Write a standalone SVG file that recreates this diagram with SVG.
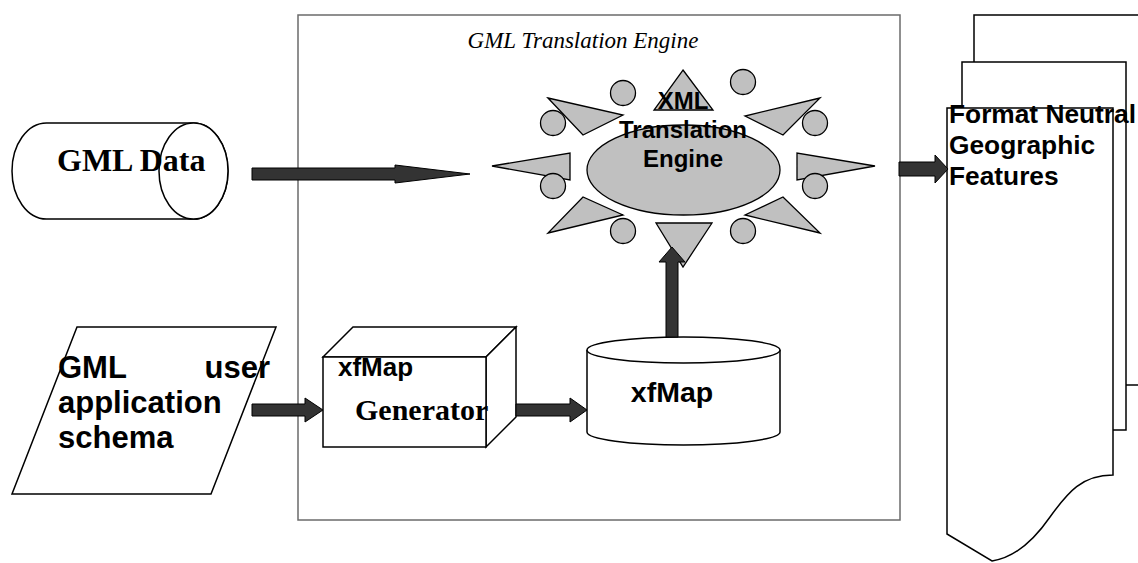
<svg xmlns="http://www.w3.org/2000/svg" width="1138" height="563" viewBox="0 0 1138 563">
<style>
.ln{fill:#fff;stroke:#000;stroke-width:1.5}
.gr{fill:#c0c0c0;stroke:#000;stroke-width:1.3}
.arr{fill:#333;stroke:#000;stroke-width:1}
.sans{font-family:"Liberation Sans",Arial,sans-serif;font-weight:bold;fill:#000}
.serif{font-family:"Liberation Serif","Times New Roman",serif;fill:#000}
</style>
<rect width="1138" height="563" fill="#fff"/>
<g id="translation-engine-box">
<rect x="298" y="15" width="602" height="505" fill="none" stroke="#6b6b6b" stroke-width="1.5"/>
<text class="serif" x="583" y="48" font-size="23" font-style="italic" text-anchor="middle">GML Translation Engine</text>
</g>
<g id="gml-data">
<path class="ln" d="M46.5,123 H193.5 A34.5,48 0 0 1 193.5,219 H46.5 A34.5,48 0 0 1 46.5,123 Z"/>
<ellipse class="ln" cx="193.5" cy="171" rx="34.5" ry="48" fill="none"/>
<text class="serif" x="57" y="171" font-size="32" font-weight="bold">GML Data</text>
</g>
<g id="gml-schema">
<polygon class="ln" points="77,327 276,327 211,494 12,494"/>
<text class="sans" font-size="31"><tspan x="58" y="378">GML</tspan><tspan x="270" y="378" text-anchor="end">user</tspan><tspan x="58" y="413">application</tspan><tspan x="58" y="448">schema</tspan></text>
</g>
<g id="xfmap-generator">
<polygon class="ln" points="323,357 353,327 516,327 486,357"/>
<polygon class="ln" points="486,357 516,327 516,417 486,447"/>
<rect class="ln" x="323" y="357" width="163" height="90"/>
<text class="sans" x="338" y="376" font-size="26">xfMap</text>
<text class="serif" x="355" y="420" font-size="30" font-weight="bold">Generator</text>
</g>
<g id="xfmap-store">
<path class="ln" d="M587,350 V432 A96.5,13 0 0 0 780,432 V350"/>
<ellipse class="ln" cx="683.5" cy="350" rx="96.5" ry="13"/>
<text class="sans" x="672" y="402" font-size="28.5" text-anchor="middle">xfMap</text>
</g>
<g id="xml-engine">
<polygon class="gr" points="683,70 713,110 654,110"/>
<polygon class="gr" points="656,223 712,223 683,267"/>
<polygon class="gr" points="492,166 570,153 570,180"/>
<polygon class="gr" points="875,166 797,153 797,180"/>
<polygon class="gr" points="548,98 623,115 583,135"/>
<polygon class="gr" points="820,98 745,116 783,135"/>
<polygon class="gr" points="548,233 623,215 583,197"/>
<polygon class="gr" points="820,233 745,215 783,197"/>
<circle class="gr" cx="623" cy="93" r="12.5"/>
<circle class="gr" cx="743" cy="82" r="12.5"/>
<circle class="gr" cx="553" cy="123" r="12.5"/>
<circle class="gr" cx="815" cy="123" r="12.5"/>
<circle class="gr" cx="553" cy="186" r="12.5"/>
<circle class="gr" cx="815" cy="186" r="12.5"/>
<circle class="gr" cx="623" cy="231" r="12.5"/>
<circle class="gr" cx="743" cy="231" r="12.5"/>
<ellipse class="gr" cx="683.5" cy="170" rx="96.5" ry="45"/>
<text class="sans" font-size="24" text-anchor="middle"><tspan x="683" y="109">XML</tspan><tspan x="683" y="138">Translation</tspan><tspan x="683" y="167">Engine</tspan></text>
</g>
<g id="features-doc">
<rect class="ln" x="974" y="15" width="180" height="370"/>
<rect class="ln" x="962" y="62" width="164" height="368"/>
<path class="ln" d="M947,108 H1113 V475 C1082,475 1068,492 1050,517 C1032,543 1012,558 992,561 L947,534 Z"/>
<text class="sans" font-size="26.3"><tspan x="949" y="123">Format Neutral</tspan><tspan x="949" y="154">Geographic</tspan><tspan x="949" y="185">Features</tspan></text>
</g>
<g id="connectors">
<polygon class="arr" points="252,168 395,168 395,165 470,174 395,183 395,180 252,180"/>
<polygon class="arr" points="252,404 305,404 305,398 323,410 305,422 305,416 252,416"/>
<polygon class="arr" points="516,404 570,404 570,398 587,410 570,422 570,416 516,416"/>
<polygon class="arr" points="666,337 666,262 659,262 672,247 685,262 678,262 678,337"/>
<polygon class="arr" points="899,162 935,162 935,155 948,169 935,183 935,176 899,176"/>
</g>
</svg>
